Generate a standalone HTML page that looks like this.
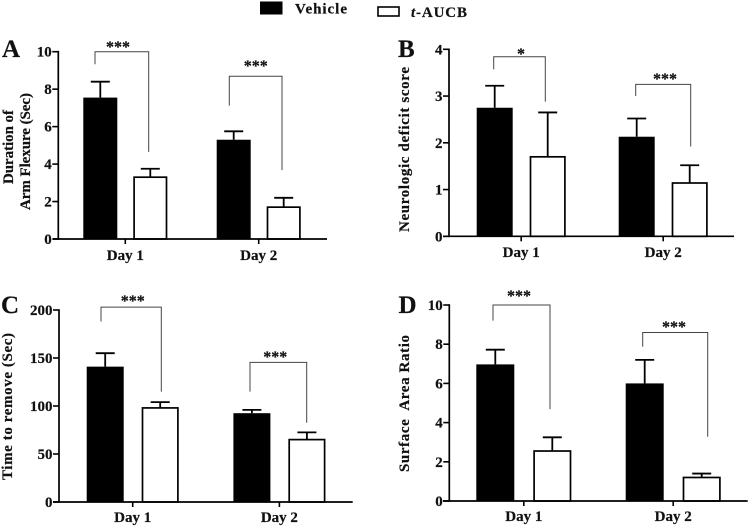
<!DOCTYPE html>
<html>
<head>
<meta charset="utf-8">
<title>Four panel bar chart</title>
<style>
html,body{margin:0;padding:0;background:#fff;width:750px;height:527px;overflow:hidden}
svg{display:block;font-family:"Liberation Serif",serif;font-weight:bold;filter:blur(0.35px)}
text{fill:#111;stroke:#111;stroke-width:0.2px;white-space:pre}
</style>
</head>
<body>
<svg id="chart" width="750" height="527" viewBox="0 0 750 527" xmlns="http://www.w3.org/2000/svg">
  <g>
    <rect x="260" y="1.5" width="22.5" height="13" fill="#000"/>
    <text x="295" y="13.5" font-size="15" textLength="52">Vehicle</text>
    <rect x="378" y="7" width="21" height="9" fill="#fff" stroke="#000" stroke-width="1.6"/>
    <text x="411" y="17" font-size="15" textLength="56"><tspan font-style="italic">t</tspan>-AUCB</text>
  </g>
</svg>
<script>
const categories = ['Day 1', 'Day 2'];
const seriesNames = ['Vehicle', 't-AUCB'];

const aVehicle = [7.55, 5.3];
const aVehicleTop = [8.4, 5.75];
const aAucb = [3.3, 1.7];
const aAucbTop = [3.75, 2.2];
const aTicks = [0, 2, 4, 6, 8, 10];
const aBracketTop = [10, 8.69];
const aBracketLeft = [9.33, 7.12];
const aBracketRight = [4.65, 3.68];
const aStars = ['***', '***'];

const bVehicle = [2.75, 2.13];
const bVehicleTop = [3.22, 2.52];
const bAucb = [1.7, 1.14];
const bAucbTop = [2.65, 1.52];
const bTicks = [0, 1, 2, 3, 4];
const bBracketTop = [3.84, 3.25];
const bBracketLeft = [3.57, 3.0];
const bBracketRight = [2.88, 1.92];
const bStars = ['*', '***'];

const cVehicle = [141, 92.5];
const cVehicleTop = [155, 96];
const cAucb = [98, 65];
const cAucbTop = [104, 72.5];
const cTicks = [0, 50, 100, 150, 200];
const cBracketTop = [203, 145.5];
const cBracketLeft = [188, 115];
const cBracketRight = [115, 82.6];
const cStars = ['***', '***'];

const dVehicle = [6.97, 6.0];
const dVehicleTop = [7.72, 7.2];
const dAucb = [2.55, 1.2];
const dAucbTop = [3.25, 1.4];
const dTicks = [0, 2, 4, 6, 8, 10];
const dBracketTop = [10, 8.6];
const dBracketLeft = [9.2, 7.87];
const dBracketRight = [4.69, 3.28];
const dStars = ['***', '***'];

const panels = [
  {id:'a', letter:'A', lx:2, ly:57, ax:58.3, y0:239, yt:51.7, xs:53, xe:327, left:83.3, w:34, off:50, step:133.4, max:10,
   v:aVehicle, vt:aVehicleTop, u:aAucb, ut:aAucbTop, ticks:aTicks, bt:aBracketTop, bl:aBracketLeft, br:aBracketRight, st:aStars,
   b1:[95,148.7], b2:[229.3,282], s1:[118,45], s2:[255.7,64], lab:260,
   titles:[['Duration of',8,110,74],['Arm Flexure (Sec)',25,93,117]]},
  {id:'b', letter:'B', lx:398, ly:57, ax:449, y0:236.3, yt:49.3, xs:443, xe:734, left:476.7, w:36, off:53, step:142, max:4,
   v:bVehicle, vt:bVehicleTop, u:bAucb, ut:bAucbTop, ticks:bTicks, bt:bBracketTop, bl:bBracketLeft, br:bBracketRight, st:bStars,
   b1:[493.7,545.3], b2:[635.7,690.7], s1:[521,52], s2:[665,77], lab:257,
   titles:[['Neurologic deficit score',404,67,165]]},
  {id:'c', letter:'C', lx:1, ly:313, ax:59, y0:502, yt:310, xs:53, xe:352.7, left:86.7, w:37, off:55, step:146.7, max:200,
   v:cVehicle, vt:cVehicleTop, u:cAucb, ut:cAucbTop, ticks:cTicks, bt:cBracketTop, bl:cBracketLeft, br:cBracketRight, st:cStars,
   b1:[101,161.3], b2:[250,306.7], s1:[132.7,299], s2:[275.3,355], lab:522,
   titles:[['Time to remove (Sec)',7,333,147]]},
  {id:'d', letter:'D', lx:398.5, ly:313, ax:449.3, y0:501, yt:305, xs:443, xe:747.7, left:476.3, w:38, off:57, step:149.4, max:10,
   v:dVehicle, vt:dVehicleTop, u:dAucb, ut:dAucbTop, ticks:dTicks, bt:dBracketTop, bl:dBracketLeft, br:dBracketRight, st:dStars,
   b1:[493,550], b2:[642.7,707.7], s1:[519,294], s2:[674,325], lab:521,
   titles:[['Surface  Area Ratio',404,335,137]]}
];

const svg = document.getElementById('chart');
const NS = 'http://www.w3.org/2000/svg';

function make(tag, parent, attrs) {
  const n = document.createElementNS(NS, tag);
  for (const k in attrs) n.setAttribute(k, attrs[k]);
  parent.appendChild(n);
  return n;
}

function drawPanel(p) {
  const yScale = v => p.y0 - v * (p.y0 - p.yt) / p.max;
  const barX = (c, s) => p.left + c * p.step + s * p.off;

  const g = make('g', svg, {});
  
  

  const letter = make('text', g, {x:p.lx, y:p.ly, 'font-size':25});
  
  
  letter.textContent = p.letter;

  p.titles.forEach(t => {
    const title = make('text', g, {
      transform:'translate(' + (t[1] + 5) + ',' + (t[2] + t[3]) + ') rotate(-90)',
      'font-size':15, textLength:t[3]
    });
    
    
    title.textContent = t[0];
  });

  categories.forEach((cat, c) => {
    seriesNames.forEach((name, s) => {
      const val = (s === 0 ? p.v : p.u)[c];
      const top = (s === 0 ? p.vt : p.ut)[c];
      const x = barX(c, s);
      const cx = x + p.w / 2;

      const stem = make('line', g, {x1:cx, x2:cx, y1:yScale(val), y2:yScale(top), stroke:'#000', 'stroke-width':1.8});
      
      

      const cap = make('line', g, {x1:cx - 9.5, x2:cx + 9.5, y1:yScale(top), y2:yScale(top), stroke:'#000', 'stroke-width':1.8});
      
      

      const bar = make('rect', g, s === 0
        ? {x:x, y:yScale(val), width:p.w, height:p.y0 - yScale(val), fill:'#000'}
        : {x:x + 0.8, y:yScale(val), width:p.w - 1.6, height:p.y0 - yScale(val), fill:'#fff', stroke:'#000', 'stroke-width':1.7});
      
      
    });

    const gc = p.left + c * p.step + (p.off + p.w) / 2;
    const tick = make('line', g, {x1:gc, x2:gc, y1:p.y0, y2:p.y0 + 5, stroke:'#000', 'stroke-width':1.6});
    
    

    const lbl = make('text', g, {x:gc, y:p.lab, 'font-size':15, 'text-anchor':'middle'});
    
    
    lbl.textContent = cat;

    const bx = c === 0 ? p.b1 : p.b2;
    const sp = c === 0 ? p.s1 : p.s2;
    const pts = [bx[0], yScale(p.bl[c]), bx[0], yScale(p.bt[c]), bx[1], yScale(p.bt[c]), bx[1], yScale(p.br[c])].join(' ');
    const bracket = make('polyline', g, {points:pts, fill:'none', stroke:'#444', 'stroke-width':1});
    
    

    const star = make('text', g, {x:sp[0], y:sp[1] + 7, 'font-size':16, 'text-anchor':'middle'});
    
    
    star.textContent = p.st[c];
  });

  const yAxis = make('line', g, {x1:p.ax, x2:p.ax, y1:p.yt - 0.8, y2:p.y0 + 0.8, stroke:'#000', 'stroke-width':1.7});
  
  

  const xAxis = make('line', g, {x1:p.xs, x2:p.xe, y1:p.y0, y2:p.y0, stroke:'#000', 'stroke-width':1.7});
  
  

  p.ticks.forEach(v => {
    const t = make('line', g, {x1:p.ax - 6, x2:p.ax, y1:yScale(v), y2:yScale(v), stroke:'#000', 'stroke-width':1.6});
    
    

    const tl = make('text', g, {x:p.ax - 6.5, y:yScale(v) + 5, 'font-size':15, 'text-anchor':'end'});
    
    
    tl.textContent = v;
  });
}

panels.forEach(drawPanel);
</script>
</body>
</html>
